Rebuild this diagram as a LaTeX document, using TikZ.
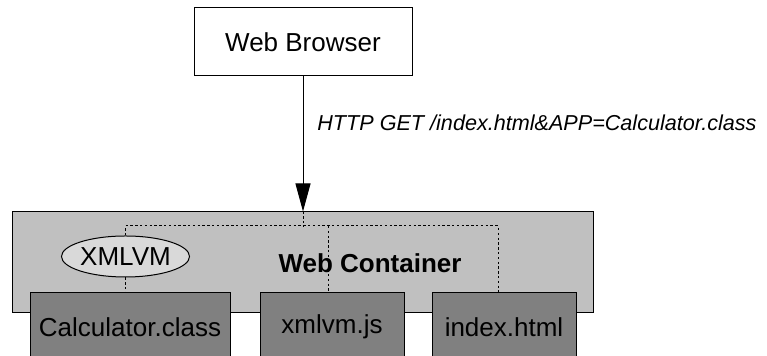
\documentclass[tikz,border=0pt]{standalone}
\usepackage{fontspec}
\setmainfont{Liberation Sans}
\usetikzlibrary{arrows.meta,shapes.geometric,calc}

\definecolor{containergray}{HTML}{C0C0C0}
\definecolor{filegray}{HTML}{808080}
\definecolor{vmgray}{HTML}{D9D9D9}

\tikzset{
  plainbox/.style={draw, line width=0.5pt, minimum width=109pt, minimum height=34pt, font=\fontsize{13}{15}\selectfont},
  filebox/.style={draw, fill=filegray, line width=0.5pt, minimum height=34pt, inner sep=0pt, font=\fontsize{13}{15}\selectfont},
  busline/.style={line width=0.5pt, dash pattern=on 1.2pt off 1.2pt},
}

\begin{document}
\begin{tikzpicture}[x=0.5pt,y=-0.5pt]
    \clip (0,0) rectangle (767,356);

    % Browser on top
    \node[plainbox] (browser) at (303,42) {Web Browser};

    % Web container with the VM inside
    \node[draw, fill=containergray, line width=0.5pt, minimum width=290.5pt, minimum height=50.5pt] (cont) at (303,262.5) {};
    \node[font=\fontsize{13}{15}\selectfont\bfseries] (contlabel) at (370,263) {Web Container};
    \node[ellipse, draw, fill=vmgray, line width=0.5pt, inner sep=0pt, minimum width=63.5pt, minimum height=20.5pt, font=\fontsize{13}{15}\selectfont] (vm) at (125.5,256.5) {XMLVM};

    % Files served by the container
    \node[filebox, minimum width=100pt] (calc) at (130,327) {Calculator.class};
    \node[filebox, minimum width=72pt] (xmlvm) at (332,327) {xmlvm.js};
    \node[filebox, minimum width=72pt] (index) at (504,327) {index.html};

    % Request from the browser
    \draw[line width=0.5pt, -{Triangle[length=14pt,width=7.5pt]}] (browser) -- (cont);
    \node[anchor=base west, inner sep=0pt, font=\fontsize{10.8}{13}\selectfont\itshape] (req) at (317,131) {HTTP GET /index.html\&APP=Calculator.class};

    % Dashed links inside the container
    \coordinate (busC) at (303,226);
    \coordinate (busM) at (328,226);
    \coordinate (busR) at (498,226);
    \draw[busline] (cont.north) -- (busC);
    \draw[busline] (vm.north) |- (busR) -- (busR |- index.north);
    \draw[busline] (vm.south) -- (vm.south |- calc.north);
    \draw[busline] (busM) -- (busM |- xmlvm.north);
\end{tikzpicture}
\end{document}
